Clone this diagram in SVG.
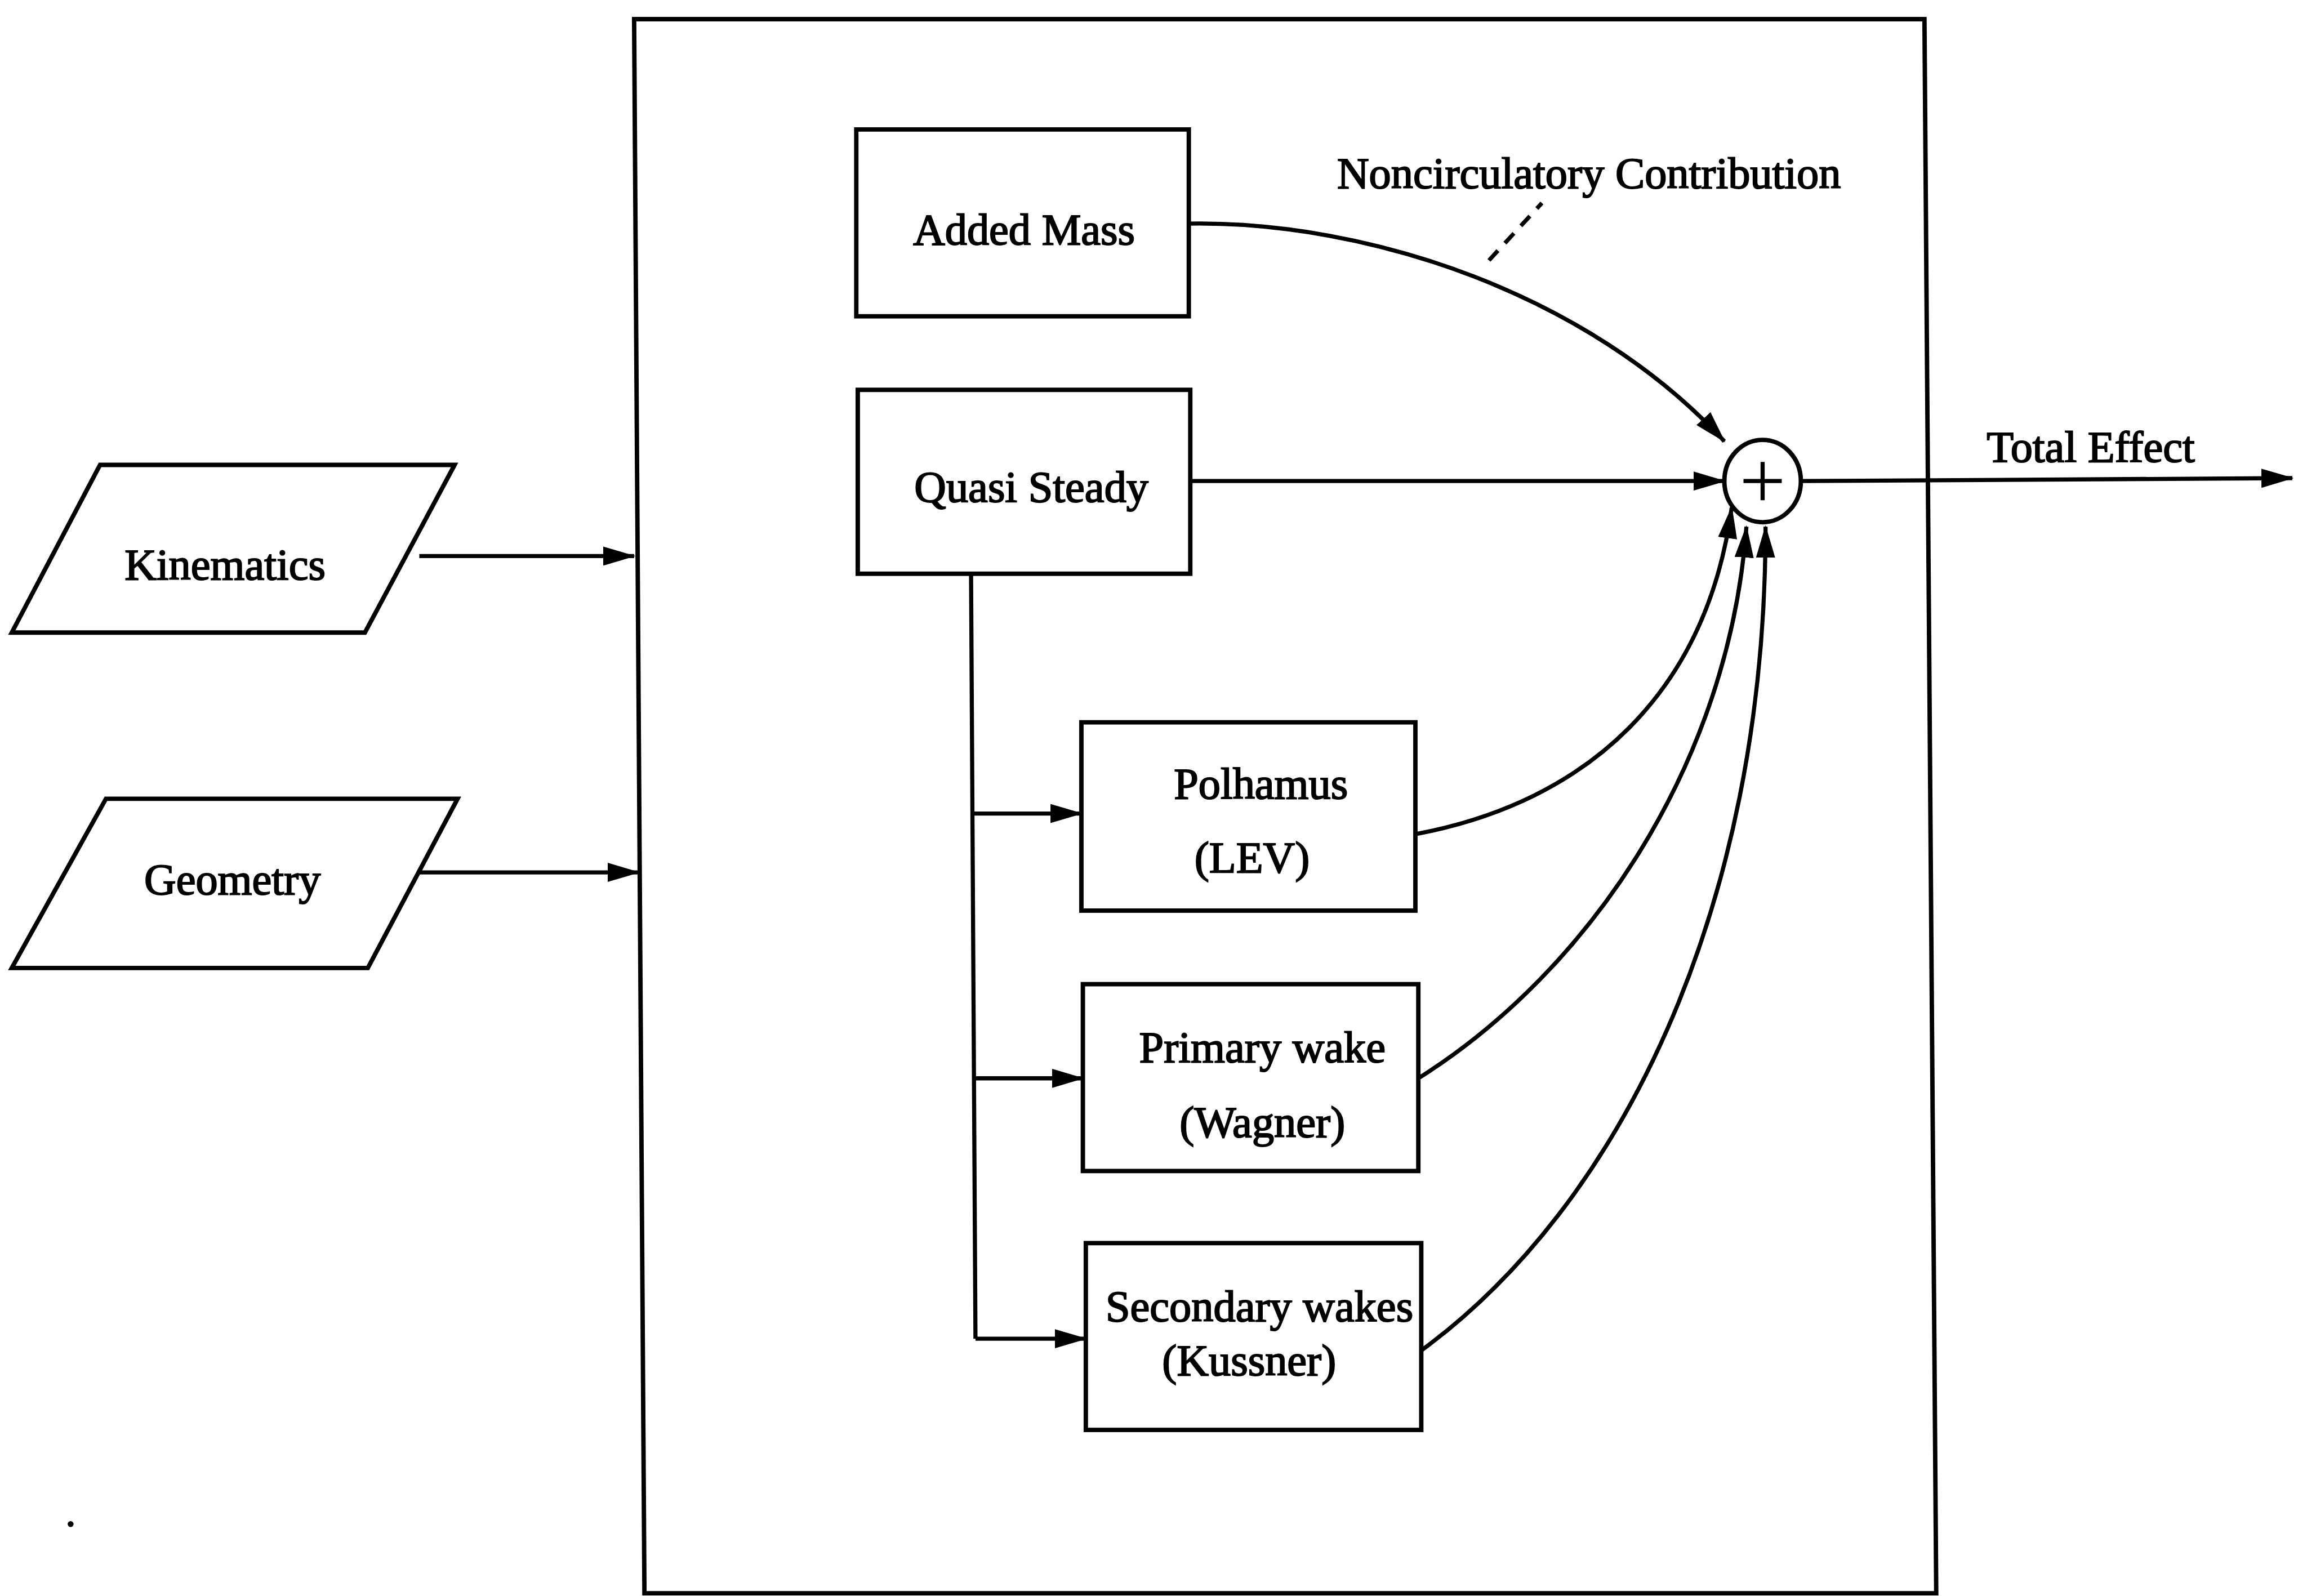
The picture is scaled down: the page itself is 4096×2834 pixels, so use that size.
<svg xmlns="http://www.w3.org/2000/svg" width="4096" height="2834" viewBox="0 0 4096 2834">
<style>
.box{fill:none;stroke:#000;stroke-width:3;stroke-linejoin:miter}
.ln{fill:none;stroke:#000;stroke-width:2.8}
.t{font-family:"Liberation Serif","Times New Roman",serif;font-size:30px;fill:#000;text-anchor:middle;stroke:#000;stroke-width:0.8}
</style>
<defs>
<marker id="ah" markerUnits="userSpaceOnUse" viewBox="0 0 22 13" refX="21" refY="6.5" markerWidth="22" markerHeight="13" orient="auto">
<path d="M0,0 L22,6.5 L0,13 Z" fill="#000"/>
</marker>
</defs>
<rect width="4096" height="2834" fill="#fff"/>
<g transform="scale(2.61224)">
<g id="system">
<path class="box" d="M431,13 L1308,13 L1316,1083 L438,1083 Z"/>
</g>
<g id="kinematics">
<path class="box" d="M68,316 L309,316 L248,430 L8,430 Z"/>
<text class="t" x="153" y="394">Kinematics</text>
</g>
<g id="geometry">
<path class="box" d="M72,543 L311,543 L250,658 L8,658 Z"/>
<text class="t" x="158" y="608">Geometry</text>
</g>
<g id="added-mass">
<rect class="box" x="582" y="88" width="226" height="127"/>
<text class="t" x="696" y="166">Added Mass</text>
</g>
<g id="quasi-steady">
<rect class="box" x="583" y="265" width="226" height="125"/>
<text class="t" x="701" y="341">Quasi Steady</text>
</g>
<g id="polhamus">
<rect class="box" x="735" y="491" width="227" height="128"/>
<text class="t" x="857" y="543">Polhamus</text>
<text class="t" x="851" y="593">(LEV)</text>
</g>
<g id="primary-wake">
<rect class="box" x="736" y="669" width="228" height="127"/>
<text class="t" x="858" y="722">Primary wake</text>
<text class="t" x="858" y="773">(Wagner)</text>
</g>
<g id="secondary-wakes">
<rect class="box" x="738" y="845" width="228" height="127"/>
<text class="t" x="856" y="898">Secondary wakes</text>
<text class="t" x="849" y="935">(Kussner)</text>
</g>
<g id="sum">
<ellipse class="box" cx="1198" cy="327" rx="26" ry="28"/>
<path class="ln" d="M1185,327 L1211,327 M1198,314 L1198,340"/>
</g>
<g id="labels">
<text class="t" x="1080" y="128">Noncirculatory Contribution</text>
<text class="t" x="1421" y="314">Total Effect</text>
<circle cx="48" cy="1036" r="2" fill="#000"/>
</g>
<g id="connectors">
<path class="ln" d="M285,378 L431,378" marker-end="url(#ah)"/>
<path class="ln" d="M285,593 L434,593" marker-end="url(#ah)"/>
<path class="ln" d="M808,152 C930,150 1080,200 1172,300" marker-end="url(#ah)"/>
<path class="ln" d="M809,327 L1172,327" marker-end="url(#ah)"/>
<path class="ln" d="M660,390 L663,910"/>
<path class="ln" d="M661,553 L735,553" marker-end="url(#ah)"/>
<path class="ln" d="M662,733 L736,733" marker-end="url(#ah)"/>
<path class="ln" d="M663,910 L738,910" marker-end="url(#ah)"/>
<path class="ln" d="M962,567 C1080,545 1160,470 1177,345" marker-end="url(#ah)"/>
<path class="ln" d="M964,733 C1080,660 1175,520 1187,358" marker-end="url(#ah)"/>
<path class="ln" d="M966,918 C1100,820 1200,620 1200,358" marker-end="url(#ah)"/>
<path class="ln" d="M1224,327 L1558,325" marker-end="url(#ah)"/>
<path class="ln" d="M1012,177 L1048,138" stroke-dasharray="9,7"/>
</g>
</g>
</svg>
